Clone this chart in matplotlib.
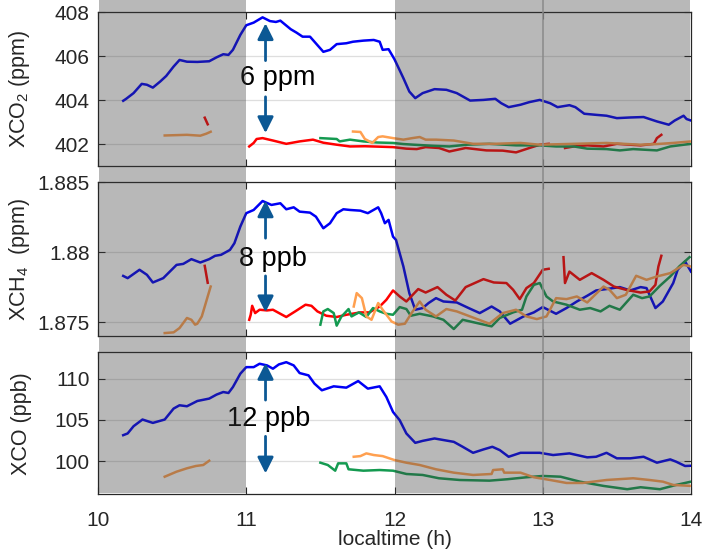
import numpy as np
import matplotlib
matplotlib.use("Agg")
import matplotlib.pyplot as plt
from matplotlib.patches import Rectangle
from matplotlib.lines import Line2D

nan = float("nan")

# ---- XCO2 (ppm) ----
co2_blue_t = [10.17, 10.19, 10.24, 10.295, 10.33, 10.37, 10.42, 10.46, 10.51, 10.55, 10.60, 10.67, 10.75, 10.80,
              10.845, 10.88, 10.91, 10.96, 11.0, 11.05, 11.11, 11.16, 11.20, 11.23, 11.30, 11.34, 11.38, 11.43,
              11.46, 11.52, 11.565, 11.61, 11.675, 11.72, 11.79, 11.86, 11.90, 11.92, 11.96, 12.0, 12.06, 12.10,
              12.14, 12.19, 12.27, 12.35, 12.42, 12.51, 12.60, 12.68, 12.72, 12.77, 12.85, 12.91, 12.98, 13.05,
              13.10, 13.18, 13.22, 13.28, 13.36, 13.43, 13.50, 13.59, 13.68, 13.77, 13.85, 13.89, 13.95, 13.97, 14.0]
co2_blue = [403.97, 404.06, 404.32, 404.74, 404.7, 404.57, 404.85, 405.1, 405.53, 405.83, 405.75, 405.74, 405.77,
            405.95, 406.09, 406.06, 406.29, 406.97, 407.41, 407.53, 407.77, 407.6, 407.56, 407.62, 407.23, 407.07,
            406.89, 406.89, 406.66, 406.2, 406.29, 406.55, 406.59, 406.66, 406.71, 406.74, 406.66, 406.29, 406.32,
            405.86, 405.0, 404.39, 404.09, 404.32, 404.5, 404.47, 404.32, 403.98, 404.01, 404.06, 403.86, 403.68,
            403.79, 403.91, 404.01, 403.86, 403.68, 403.77, 403.68, 403.38, 403.33, 403.29, 403.18, 403.21, 403.23,
            403.03, 402.88, 403.07, 403.29, 403.14, 403.07]
co2_red_t = [10.72, 10.74, nan, 11.02, 11.05, 11.07, 11.11, 11.18, 11.27, 11.36, 11.45, 11.52, 11.61, 11.70, 11.80,
             11.90, 11.99, 12.08, 12.15, 12.21, 12.30, 12.37, 12.48, 12.62, 12.73, 12.82, 12.91, 12.98, 13.04, nan,
             13.15, 13.21, 13.30, 13.41, 13.50, 13.59, 13.66, 13.75, 13.77, 13.80]
co2_red = [403.2, 402.9, nan, 401.89, 402.05, 402.23, 402.27, 402.16, 402.01, 402.12, 402.2, 402.06, 401.97, 401.89,
           401.9, 401.88, 401.86, 401.79, 401.77, 401.86, 401.82, 401.66, 401.82, 401.71, 401.7, 401.62, 401.82,
           401.97, 402.01, nan, 401.82, 401.89, 401.94, 401.89, 402.01, 401.97, 401.94, 402.01, 402.27, 402.42]
co2_green_t = [11.50, 11.61, 11.63, 11.70, 11.79, 11.88, 11.99, 12.06, 12.13, 12.26, 12.37, 12.49, 12.64, 12.82,
               12.98, 13.09, 13.21, 13.30, 13.43, 13.52, 13.61, 13.77, 13.86, 14.0]
co2_green = [402.27, 402.23, 402.12, 402.2, 402.12, 402.07, 402.05, 402.0, 401.97, 401.92, 401.89, 401.97, 402.01,
             401.94, 401.94, 401.89, 401.89, 401.79, 401.77, 401.71, 401.77, 401.71, 401.89, 402.01]
co2_orange_t = [10.45, 10.60, 10.69, 10.73, 10.76, nan, 11.72, 11.77, 11.80, 11.85, 11.89, 11.92, 11.99, 12.06,
                12.12, 12.17, 12.21, 12.28, 12.40, 12.53, 12.67, 12.85, 12.98, 13.21, 13.43, 13.66, 13.77, 13.88, 14.0]
co2_orange = [402.39, 402.42, 402.38, 402.47, 402.56, nan, 402.57, 402.55, 402.23, 402.05, 402.32, 402.35, 402.27,
              402.2, 402.27, 402.32, 402.2, 402.2, 402.16, 402.01, 402.01, 402.05, 401.97, 402.01, 402.05, 401.97,
              402.0, 402.05, 402.12]

# ---- XCH4 (ppm) ----
ch4_blue_t = [10.17, 10.20, 10.28, 10.33, 10.37, 10.44, 10.53, 10.575, 10.63, 10.69, 10.75, 10.79, 10.83, 10.89,
              10.92, 10.96, 11.0, 11.05, 11.11, 11.17, 11.23, 11.27, 11.32, 11.36, 11.43, 11.47, 11.52, 11.565,
              11.61, 11.655, 11.70, 11.77, 11.82, 11.89, 11.91, 11.935, 11.96, 11.99, 12.01, 12.06, 12.10, 12.14,
              12.19, 12.23, 12.28, 12.33, 12.42, 12.50, 12.575, 12.655, 12.71, 12.78, 12.87, 12.94, 13.00, 13.09,
              13.16, 13.23, 13.30, 13.36, 13.43, 13.52, 13.59, 13.66, 13.70, 13.76, 13.81, 13.88, 13.91, 13.96, 14.0]
ch4_blue = [1.8783, 1.87814, 1.87874, 1.87838, 1.87783, 1.87814, 1.87909, 1.87916, 1.8795, 1.87926, 1.8795,
            1.87974, 1.87981, 1.88016, 1.88064, 1.88183, 1.88279, 1.88302, 1.88366, 1.88338, 1.8835, 1.88307,
            1.88321, 1.8829, 1.88283, 1.88254, 1.88171, 1.88207, 1.88279, 1.88307, 1.88302, 1.88297, 1.88279,
            1.88321, 1.88279, 1.88207, 1.88231, 1.88111, 1.88088, 1.87897, 1.87707, 1.87588, 1.876, 1.87636,
            1.87671, 1.87647, 1.8764, 1.876, 1.87564, 1.87611, 1.87576, 1.87488, 1.8754, 1.87569, 1.87607, 1.87559,
            1.876, 1.87647, 1.87688, 1.87726, 1.87736, 1.8775, 1.87726, 1.8775, 1.87743, 1.876, 1.87647, 1.87779,
            1.87874, 1.87933, 1.87861]
ch4_red_t = [10.72, 10.74, nan, 11.02, 11.03, 11.04, 11.06, 11.09, 11.14, 11.18, 11.23, 11.27, 11.33, 11.40, 11.44,
             11.48, 11.54, 11.61, 11.675, 11.77, 11.83, 11.90, 11.945, 11.99, 12.035, 12.08, 12.16, 12.21, 12.29,
             12.35, 12.41, 12.48, 12.60, 12.67, 12.755, 12.80, 12.845, 12.89, 12.94, 13.00, 13.04, nan, 13.14,
             13.15, 13.18, 13.25, 13.33, 13.41, 13.48, 13.56, 13.66, 13.72, 13.76, 13.78, 13.80]
ch4_red = [1.87902, 1.87781, nan, 1.87516, 1.87552, 1.87616, 1.87564, 1.87588, 1.87583, 1.87588, 1.87559, 1.87536,
           1.87576, 1.87624, 1.87616, 1.87576, 1.87545, 1.87536, 1.87552, 1.87569, 1.87569, 1.87611, 1.87659,
           1.87726, 1.87683, 1.87647, 1.87736, 1.87711, 1.8775, 1.87695, 1.87654, 1.8775, 1.87807, 1.87783,
           1.87779, 1.87731, 1.87664, 1.87743, 1.87779, 1.87874, 1.87881, nan, 1.87964, 1.87779, 1.87861, 1.87802,
           1.8785, 1.87802, 1.87754, 1.87731, 1.87711, 1.87719, 1.87766, 1.87897, 1.87974]
ch4_green_t = [11.50, 11.52, 11.55, 11.59, 11.61, 11.64, 11.69, 11.71, 11.76, 11.81, 11.855, 11.90, 11.945, 11.99,
               12.035, 12.08, 12.11, 12.17, 12.26, 12.33, 12.40, 12.46, 12.555, 12.655, 12.71, 12.80, 12.86, 12.89,
               12.94, 12.98, 13.025, 13.07, 13.16, 13.25, 13.32, 13.39, 13.45, 13.52, 13.61, 13.67, 13.72, 13.79,
               13.86, 13.92, 13.99]
ch4_green = [1.87481, 1.87576, 1.87593, 1.87564, 1.87474, 1.87536, 1.87593, 1.8754, 1.87569, 1.87536, 1.876,
             1.87576, 1.87559, 1.87552, 1.87607, 1.87593, 1.87545, 1.87559, 1.8754, 1.87516, 1.8745, 1.87516,
             1.87493, 1.87469, 1.87529, 1.87569, 1.87588, 1.87683, 1.87766, 1.87779, 1.87683, 1.87647, 1.87624,
             1.87588, 1.876, 1.87576, 1.87616, 1.87588, 1.87695, 1.87671, 1.87683, 1.87759, 1.87826, 1.87897, 1.87964]
ch4_orange_t = [10.45, 10.51, 10.55, 10.60, 10.63, 10.655, 10.67, 10.70, 10.72, 10.74, 10.76, nan, 11.725, 11.745,
                11.78, 11.81, 11.845, 11.89, 11.92, 11.98, 12.025, 12.07, 12.115, 12.17, 12.21, 12.28, 12.35, 12.42,
                12.51, 12.64, 12.73, 12.82, 12.89, 12.96, 13.025, 13.09, 13.16, 13.23, 13.30, 13.41, 13.45, 13.50,
                13.56, 13.63, 13.70, 13.77, 13.86, 13.95, 14.0]
ch4_orange = [1.87421, 1.87426, 1.87457, 1.87529, 1.87516, 1.87481, 1.87488, 1.8754, 1.87611, 1.87683, 1.87754, nan,
              1.87611, 1.87707, 1.87671, 1.8754, 1.87516, 1.87636, 1.87588, 1.87504, 1.87481, 1.87488, 1.87564,
              1.87647, 1.87588, 1.8754, 1.87593, 1.87576, 1.8754, 1.87488, 1.87564, 1.87588, 1.8754, 1.87521,
              1.8754, 1.87671, 1.87664, 1.87683, 1.8764, 1.87754, 1.87731, 1.87671, 1.87695, 1.87831, 1.87802,
              1.87826, 1.8785, 1.87909, 1.87897]

# ---- XCO (ppb) ----
co_blue_t = [10.17, 10.20, 10.24, 10.30, 10.37, 10.45, 10.51, 10.55, 10.60, 10.67, 10.75, 10.80, 10.845, 10.88,
             10.91, 10.96, 11.0, 11.05, 11.09, 11.14, 11.18, 11.22, 11.27, 11.32, 11.36, 11.42, 11.46, 11.51, 11.59,
             11.675, 11.755, 11.82, 11.90, 11.945, 11.99, 12.035, 12.08, 12.14, 12.19, 12.27, 12.40, 12.46, 12.53,
             12.60, 12.66, 12.71, 12.77, 12.85, 12.98, 13.07, 13.18, 13.30, 13.36, 13.43, 13.50, 13.59, 13.68,
             13.77, 13.86, 13.90, 13.96, 14.0]
co_blue = [103.14, 103.35, 104.23, 105.04, 104.63, 105.04, 106.37, 106.77, 106.65, 107.29, 107.58, 108.07, 108.38,
           108.26, 108.98, 110.6, 111.4, 111.4, 111.81, 111.61, 111.21, 111.73, 112.0, 111.61, 110.68, 110.4, 109.4,
           108.59, 109.07, 108.91, 109.71, 108.79, 109.07, 107.78, 105.96, 104.96, 103.35, 102.21, 102.45, 102.74,
           102.33, 101.73, 101.0, 101.41, 101.73, 101.33, 100.52, 101.0, 101.0, 100.73, 100.93, 100.45, 100.52,
           101.0, 100.33, 100.33, 100.52, 99.8, 100.2, 99.92, 99.4, 99.43]
co_green_t = [11.50, 11.55, 11.60, 11.62, 11.675, 11.69, 11.79, 11.90, 11.99, 12.08, 12.19, 12.30, 12.44, 12.64,
              12.76, 12.89, 13.0, 13.12, 13.25, 13.41, 13.57, 13.66, 13.79, 13.90, 14.0]
co_green = [99.8, 99.52, 98.83, 99.72, 99.72, 99.0, 98.83, 98.91, 98.83, 98.43, 98.31, 97.91, 97.7, 97.62, 97.79,
            98.03, 98.19, 98.1, 97.5, 96.98, 96.58, 96.82, 96.58, 97.1, 97.5]
co_orange_t = [10.45, 10.53, 10.60, 10.66, 10.71, 10.75, nan, 11.725, 11.77, 11.81, 11.86, 11.92, 12.0, 12.08,
               12.17, 12.28, 12.40, 12.53, 12.655, 12.665, 12.73, 12.74, 12.85, 12.94, 13.05, 13.16, 13.27, 13.43,
               13.61, 13.72, 13.81, 13.88, 14.0]
co_orange = [98.1, 98.71, 99.12, 99.4, 99.52, 100.04, nan, 100.52, 100.6, 100.93, 100.73, 100.6, 100.12, 99.8,
             99.52, 99.0, 98.59, 98.31, 98.43, 98.91, 99.0, 98.59, 98.59, 98.03, 97.7, 97.34, 97.34, 97.7, 97.91,
             97.7, 97.5, 97.1, 96.98]

x_ticks = [10, 11, 12, 13, 14]
co2_ticks = [402, 404, 406, 408]
ch4_ticks = [1.875, 1.88, 1.885]
ch4_ticklabels = ["1.875", "1.88", "1.885"]
co_ticks = [100, 105, 110]

plt.rcParams["font.family"] = ["Liberation Sans", "DejaVu Sans"]
plt.rcParams["mathtext.default"] = "regular"

BLUE = "#0000f5"
RED = "#ff0000"
GREEN = "#149a50"
ORANGE = "#ffa050"
ARROW = "#0c5894"
TXT = "#262626"
FS = 15

fig = plt.figure(figsize=(7.03, 5.52), dpi=100)
L, W = 98 / 703, 593 / 703
ax1 = fig.add_axes([L, 1 - 166 / 552, W, 153.7 / 552])
ax2 = fig.add_axes([L, 1 - 336 / 552, W, 153.7 / 552])
ax3 = fig.add_axes([L, 1 - 494 / 552, W, 141.7 / 552])

panels = [
    (ax1, [(co2_blue_t, co2_blue, BLUE), (co2_red_t, co2_red, RED), (co2_green_t, co2_green, GREEN),
           (co2_orange_t, co2_orange, ORANGE)], (401, 408), co2_ticks, None, "XCO$_2$ (ppm)"),
    (ax2, [(ch4_blue_t, ch4_blue, BLUE), (ch4_red_t, ch4_red, RED), (ch4_green_t, ch4_green, GREEN),
           (ch4_orange_t, ch4_orange, ORANGE)], (1.874, 1.885), ch4_ticks, ch4_ticklabels, "XCH$_4$  (ppm)"),
    (ax3, [(co_blue_t, co_blue, BLUE), (co_green_t, co_green, GREEN), (co_orange_t, co_orange, ORANGE)],
     (96.0, 113.2), co_ticks, None, "XCO (ppb)"),
]

for ax, series, ylim, yt, ytl, ylab in panels:
    for t, v, c in series:
        ax.plot(t, v, color=c, lw=1.8, solid_joinstyle="round")
    ax.set_xlim(10, 14)
    ax.set_ylim(*ylim)
    ax.set_xticks(x_ticks)
    ax.set_yticks(yt)
    if ytl is not None:
        ax.set_yticklabels(ytl)
    ax.grid(axis="y", color=TXT, alpha=0.15, lw=0.9)
    ax.tick_params(direction="in", top=True, right=True, length=5, width=0.8,
                   labelsize=FS, colors=TXT, pad=6)
    ax.tick_params(axis="x", pad=12)
    for s in ax.spines.values():
        s.set_color(TXT)
        s.set_linewidth(0.9)
    ax.set_ylabel(ylab, fontsize=FS + 0.5, color=TXT)
    ax.yaxis.set_label_coords(-0.112, 0.5)
    if ax is not ax3:
        ax.tick_params(labelbottom=False)

ax3.set_xticklabels([str(x) for x in x_ticks])
ax3.set_xlabel("localtime (h)", fontsize=FS, color=TXT, labelpad=0)

# arrows and labels
arrow_kw = dict(arrowstyle="-|>,head_length=0.48,head_width=0.24", color=ARROW, lw=2,
                mutation_scale=20, shrinkA=0, shrinkB=0)
annot = [
    (ax1, 11.13, (405.8, 407.5), (404.15, 402.5), 10.96, 405.0, "6 ppm"),
    (ax2, 11.13, (1.881, 1.8837), (1.8783, 1.8757), 10.95, 1.8795, "8 ppb"),
    (ax3, 11.13, (107.4, 111.9), (103.0, 98.5), 10.87, 105.1, "12 ppb"),
]
for ax, xa, up, down, xt, yt_, label in annot:
    ax.annotate("", xy=(xa, up[1]), xytext=(xa, up[0]), arrowprops=arrow_kw)
    ax.annotate("", xy=(xa, down[1]), xytext=(xa, down[0]), arrowprops=arrow_kw)
    ax.text(xt, yt_, label, fontsize=19.5, ha="left", va="center", color="black")


def fx(x):
    return fig.transFigure.inverted().transform(ax3.transData.transform((x, 0)))[0]


bottom = 1 - 493 / 552
for x0, x1 in [(10.01, 11), (12, 13.99)]:
    fig.patches.append(Rectangle((fx(x0), bottom), fx(x1) - fx(x0), 1 - bottom,
                                 transform=fig.transFigure, facecolor="#3c3c3c", alpha=0.36,
                                 edgecolor="none", zorder=10))
fig.lines.append(Line2D([fx(13), fx(13)], [bottom, 1], transform=fig.transFigure,
                        color="#8a8a8a", lw=1.1, zorder=11))

fig.savefig("out.png", dpi=100)
